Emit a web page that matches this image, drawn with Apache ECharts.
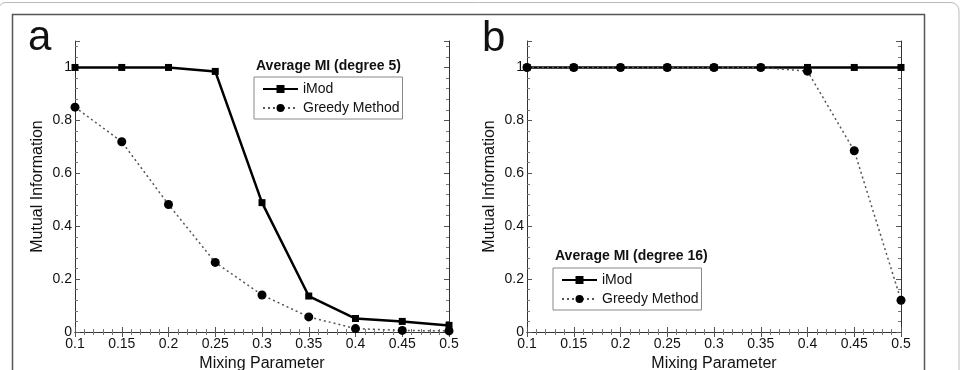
<!DOCTYPE html>
<html>
<head>
<meta charset="utf-8">
<script src="https://cdn.jsdelivr.net/npm/echarts@6/dist/echarts.min.js"></script>
<style>
  html, body { margin: 0; padding: 0; background: #fff; }
  #chart { width: 967px; height: 370px; }
</style>
</head>
<body>
<div id="chart"></div>
<script>
// mixing parameter (x) and mutual information values
var mixing = [0.1, 0.15, 0.2, 0.25, 0.3, 0.35, 0.4, 0.45, 0.5];
var imodA = [1, 1, 1, 0.985, 0.489, 0.136, 0.051, 0.040, 0.025];
var greedyA = [0.850, 0.719, 0.482, 0.263, 0.140, 0.057, 0.013, 0.006, 0.004];
var imodB = [1, 1, 1, 1, 1, 1, 1, 1, 1];
var greedyB = [1, 1, 1, 1, 1, 1, 0.986, 0.685, 0.120];
var legendNames = ['iMod', 'Greedy Method'];
var legendTitles = ['Average MI (degree 5)', 'Average MI (degree 16)'];

var font = '"Liberation Sans", Arial, Helvetica, sans-serif';

function pairs(ys) {
  return mixing.map(function (x, i) { return [x, ys[i]]; });
}

function xAx(grid, pos) {
  var main = pos === 'bottom';
  return {
    type: 'value', gridIndex: grid, position: pos,
    min: 0.1, max: 0.5, interval: 0.05,
    name: main ? 'Mixing Parameter' : '',
    nameLocation: 'middle', nameGap: 19,
    nameTextStyle: { fontSize: 16, color: '#111', fontFamily: font },
    axisLine: { show: true, lineStyle: { color: '#333', width: 1 } },
    axisTick: { show: true, inside: true, length: 5, lineStyle: { color: '#555' } },
    minorTick: { show: true, splitNumber: 5, length: 3, lineStyle: { color: '#777' } },
    axisLabel: { show: main, fontSize: 14, color: '#111', margin: 5, fontFamily: font },
    splitLine: { show: false }
  };
}

function yAx(grid, pos) {
  var main = pos === 'left';
  return {
    type: 'value', gridIndex: grid, position: pos,
    min: 0, max: 1.1, interval: 0.2,
    name: main ? 'Mutual Information' : '',
    nameLocation: 'middle', nameGap: 29,
    nameTextStyle: { fontSize: 16, color: '#111', fontFamily: font },
    axisLine: { show: true, lineStyle: { color: '#333', width: 1 } },
    axisTick: { show: true, inside: true, length: 5, lineStyle: { color: '#555' } },
    minorTick: { show: true, splitNumber: 5, length: 3, lineStyle: { color: '#777' } },
    axisLabel: { show: main, fontSize: 14, color: '#111', margin: 3, showMaxLabel: false, fontFamily: font },
    splitLine: { show: false }
  };
}

function imodSeries(grid, ys) {
  return {
    name: 'iMod', type: 'line', xAxisIndex: grid * 2, yAxisIndex: grid * 2,
    data: pairs(ys), symbol: 'rect', symbolSize: 7, showSymbol: true,
    color: '#000', lineStyle: { color: '#000', width: 2.5 },
    itemStyle: { color: '#000' }, animation: false, z: 3
  };
}

function greedySeries(grid, ys) {
  return {
    name: 'Greedy Method', type: 'line', xAxisIndex: grid * 2, yAxisIndex: grid * 2,
    data: pairs(ys), symbol: 'circle', symbolSize: 9, showSymbol: true,
    color: '#000', lineStyle: { color: '#555', width: 1.5, type: [2, 3] },
    itemStyle: { color: '#000' }, animation: false, z: 4
  };
}

function legendAt(left, top) {
  return {
    data: legendNames, orient: 'vertical', left: left, top: top,
    itemWidth: 35, itemHeight: 10, itemGap: 5,
    padding: [5, 3, 4, 8],
    borderColor: '#888', borderWidth: 1,
    textStyle: { fontSize: 14, color: '#111', fontFamily: font },
    selectedMode: false
  };
}

var chart = echarts.init(document.getElementById('chart'));
var option = {
  backgroundColor: '#fff',
  animation: false,
  textStyle: { fontFamily: font },
  grid: [
    { left: 75, right: 518, top: 41, bottom: 38, outerBoundsMode: 'none', containLabel: false },
    { left: 527, right: 66, top: 41, bottom: 38, outerBoundsMode: 'none', containLabel: false }
  ],
  xAxis: [xAx(0, 'bottom'), xAx(0, 'top'), xAx(1, 'bottom'), xAx(1, 'top')],
  yAxis: [yAx(0, 'left'), yAx(0, 'right'), yAx(1, 'left'), yAx(1, 'right')],
  title: [
    { text: legendTitles[0], left: 256, top: 59, padding: 0,
      textStyle: { fontSize: 14, fontWeight: 'bold', color: '#111', fontFamily: font } },
    { text: legendTitles[1], left: 555, top: 249, padding: 0,
      textStyle: { fontSize: 14, fontWeight: 'bold', color: '#111', fontFamily: font } }
  ],
  legend: [legendAt(254, 77), legendAt(553, 268)],
  graphic: [
    { type: 'rect', shape: { x: -2, y: 2.5, width: 961, height: 420, r: 8 },
      style: { fill: 'none', stroke: '#bbb', lineWidth: 1 }, silent: true },
    { type: 'rect', shape: { x: 12.5, y: 14.5, width: 912, height: 420 },
      style: { fill: 'none', stroke: '#555', lineWidth: 1.5 }, silent: true },
    { type: 'text', left: 28, top: 17,
      style: { text: 'a', fontSize: 42, fill: '#111', fontFamily: font } },
    { type: 'text', left: 482, top: 18,
      style: { text: 'b', fontSize: 42, fill: '#111', fontFamily: font } }
  ],
  series: [
    imodSeries(0, imodA), greedySeries(0, greedyA),
    imodSeries(1, imodB), greedySeries(1, greedyB)
  ]
};
chart.setOption(option);
window.addEventListener('resize', function () { chart.resize(); });
</script>
</body>
</html>
